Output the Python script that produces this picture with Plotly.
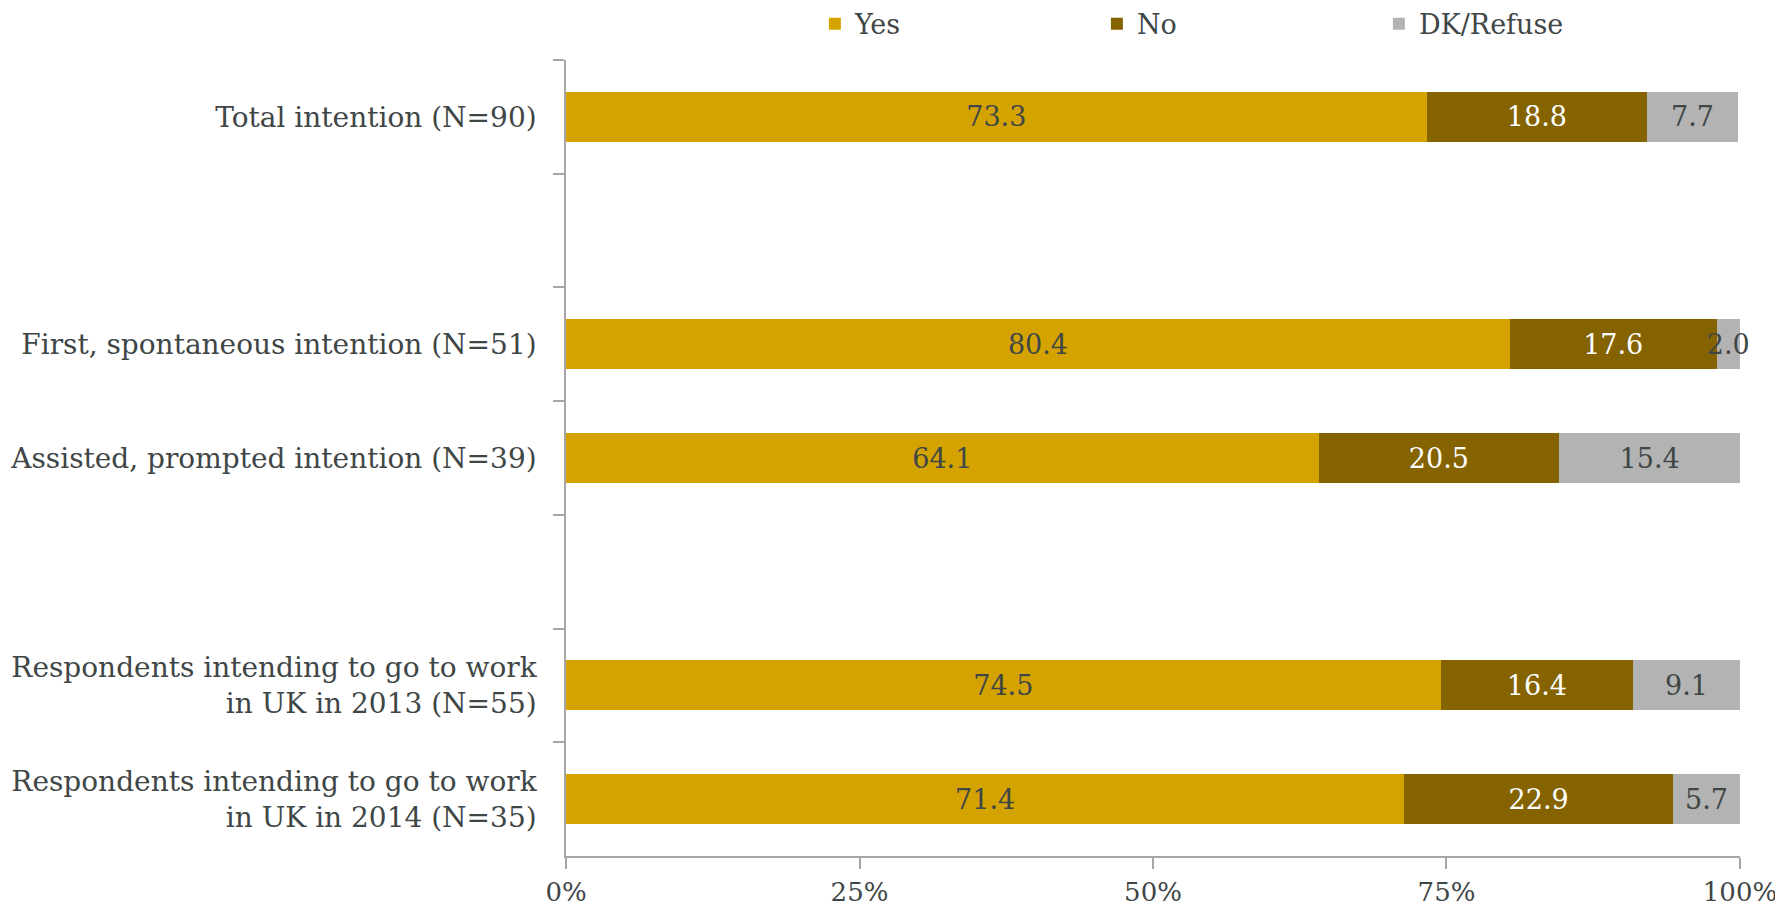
import plotly.graph_objects as go

categories = [
    "Total intention (N=90)",
    " ",
    "First, spontaneous intention (N=51)",
    "Assisted, prompted intention (N=39)",
    "  ",
    "Respondents intending to go to work<br>in UK in 2013 (N=55)",
    "Respondents intending to go to work<br>in UK in 2014 (N=35)",
]
yes_vals = [73.3, None, 80.4, 64.1, None, 74.5, 71.4]
no_vals = [18.8, None, 17.6, 20.5, None, 16.4, 22.9]
dk_vals = [7.7, None, 2.0, 15.4, None, 9.1, 5.7]
series_names = ["Yes", "No", "DK/Refuse"]
series_colors = ["#D5A300", "#846300", "#B3B3B3"]
text_colors = ["#3F4646", "#FFFFFF", "#3F4646"]
x_tickvals = [0, 25, 50, 75, 100]
x_ticktext = ["0%", "25%", "50%", "75%", "100%"]

FONT = "DejaVu Serif"
TXT = "#3F4646"

fig = go.Figure()
for name, vals, col, tcol in zip(series_names, [yes_vals, no_vals, dk_vals], series_colors, text_colors):
    fig.add_trace(go.Bar(
        y=categories, x=vals, name=name, orientation="h",
        marker=dict(color=col, line=dict(width=0)),
        text=[("" if v is None else f"{v:.1f}") for v in vals],
        textposition="inside", insidetextanchor="middle", textangle=0,
        constraintext="none",
        textfont=dict(family=FONT, size=27, color=tcol),
        cliponaxis=False,
    ))

# page body has an 8px margin, so the figure is sized to the remaining viewport
fig.update_layout(
    template="none",
    barmode="stack",
    bargap=0.56,
    width=1775, height=902,
    margin=dict(l=558, r=43, t=52, b=54, autoexpand=False),
    paper_bgcolor="white", plot_bgcolor="white",
    font=dict(family=FONT, size=27, color=TXT),
    showlegend=True,
    legend=dict(orientation="h", x=0.212, xanchor="left", yref="container", y=0.982, yanchor="middle",
                font=dict(family=FONT, size=27, color=TXT), entrywidth=237,
                itemwidth=30, traceorder="normal", bgcolor="rgba(0,0,0,0)"),
)
fig.update_yaxes(
    autorange="reversed", categoryorder="array", categoryarray=categories,
    tickson="boundaries", ticks="outside", ticklen=11, tickcolor="#A6A6A6", tickwidth=1.5,
    showline=True, linecolor="#A6A6A6", linewidth=1.5, showgrid=False, automargin=False,
    tickfont=dict(family=FONT, size=28, color=TXT), ticklabelstandoff=22,
)
fig.update_xaxes(
    range=[0, 100.001], tickvals=x_tickvals, ticktext=x_ticktext,
    ticks="outside", ticklen=11, tickcolor="#A6A6A6", tickwidth=1.5,
    showline=True, linecolor="#A6A6A6", linewidth=1.5, showgrid=False, zeroline=False,
    automargin=False,
    tickfont=dict(family=FONT, size=26, color=TXT), ticklabelstandoff=1,
)

fig.write_html("out.html")
